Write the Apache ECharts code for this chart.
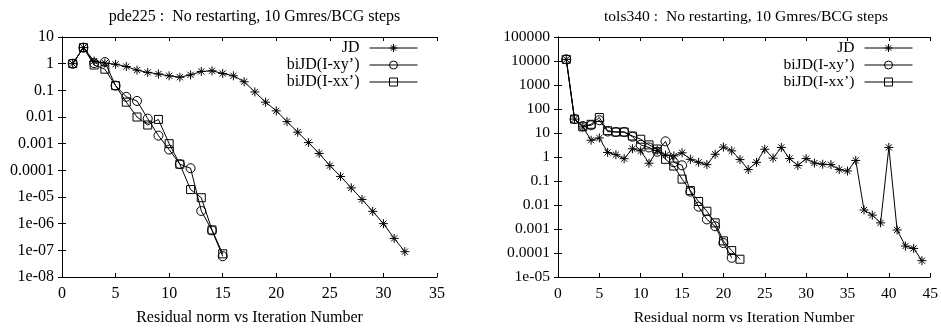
<!DOCTYPE html>
<html>
<head>
<meta charset="utf-8">
<script src="https://cdn.jsdelivr.net/npm/echarts@6/dist/echarts.min.js"></script>
<style>
html,body{margin:0;padding:0;background:#fff;}
#c{width:941px;height:331px;}
</style>
</head>
<body>
<div id="c"></div>
<script>
// ---- data (iteration number = index + 1) ----
const titleLeft = "pde225 :  No restarting, 10 Gmres/BCG steps";
const titleRight = "tols340 :  No restarting, 10 Gmres/BCG steps";
const xName = "Residual norm vs Iteration Number";
const seriesNames = ["JD", "biJD(I-xy\u2019)", "biJD(I-xx\u2019)"];

const jdLeft = [1.0, 4.0, 1.25, 1.05, 0.95, 0.78, 0.57, 0.47, 0.41, 0.35, 0.31, 0.38, 0.51, 0.54, 0.43, 0.35,
  0.21, 0.087, 0.036, 0.017, 0.0067, 0.0027, 0.0011, 4.3e-4, 1.5e-4, 5.9e-5, 2.2e-5, 8.1e-6, 2.9e-6, 1.0e-6, 2.8e-7, 8.9e-8];
const xyLeft = [1.0, 4.0, 1.05, 1.15, 0.15, 0.057, 0.04, 0.0087, 0.002, 6e-4, 1.7e-4, 1.2e-4, 3e-6, 5.6e-7, 6e-8];
const xxLeft = [1.0, 4.0, 0.89, 0.62, 0.15, 0.036, 0.01, 0.005, 0.0081, 0.001, 1.7e-4, 1.9e-5, 9.4e-6, 5.8e-7, 7.4e-8];

const jdRight = [11700, 38, 18, 5.0, 6.2, 1.55, 1.25, 0.85, 2.2, 1.8, 0.55, 1.9, 1.2, 1.1, 1.5, 0.8, 0.6, 0.48,
  1.3, 2.6, 1.8, 0.78, 0.3, 0.6, 2.1, 0.9, 2.5, 0.86, 0.44, 0.86, 0.56, 0.5, 0.48, 0.3, 0.26, 0.72,
  0.0062, 0.0038, 0.0018, 2.5, 9.1e-4, 1.95e-4, 1.55e-4, 4.8e-5];
const xyRight = [11700, 38, 19.5, 21, 34, 11.5, 11, 11, 7, 3.2, 2.5, 1.65, 4.5, 0.6, 0.45, 0.036, 0.0085, 0.0025, 0.0013, 2.6e-4, 6.3e-5];
const xxRight = [11700, 38, 18, 23, 44, 12.5, 11, 11, 7.5, 5.5, 3.2, 2.15, 0.8, 0.42, 0.12, 0.04, 0.014, 0.0055, 0.0018, 3.2e-4, 1.26e-4, 5.5e-5];

const yTicksLeft = ['1e-08', '1e-07', '1e-06', '1e-05', '0.0001', '0.001', '0.01', '0.1', '1', '10'];
const yTicksRight = ['1e-05', '0.0001', '0.001', '0.01', '0.1', '1', '10', '100', '1000', '10000', '100000'];

// ---- chart ----
const FONT = 'Liberation Serif';
const asterisk = 'path://M5,0L5,10M0,5L10,5M1.6,1.6L8.4,8.4M1.6,8.4L8.4,1.6';
const symbols = [asterisk, 'circle', 'rect'];
const symbolSizes = [9, 9, 8];

function pts(arr) { return arr.map((v, i) => [i + 1, v]); }

function mkSeries(name, idx, arr, gi) {
  return {
    name: name, type: 'line', xAxisIndex: gi * 2, yAxisIndex: gi * 2,
    data: pts(arr), symbol: symbols[idx], symbolSize: symbolSizes[idx],
    showAllSymbol: true,
    lineStyle: { color: '#000', width: 1 },
    itemStyle: { color: idx === 0 ? '#000' : 'rgba(0,0,0,0)', borderColor: '#000', borderWidth: 1 },
    emphasis: { disabled: true }, z: 3 + idx
  };
}

function xAxes(gi, max, fs) {
  const common = {
    type: 'value', gridIndex: gi, min: 0, max: max, interval: 5,
    axisLine: { show: true, lineStyle: { color: '#000', width: 1 } },
    axisTick: { show: true, inside: true, length: 4, lineStyle: { color: '#000' } },
    splitLine: { show: false }
  };
  return [
    Object.assign({}, common, {
      position: 'bottom',
      axisLabel: { color: '#000', fontFamily: FONT, fontSize: fs, margin: 9 },
      name: xName, nameLocation: 'middle', nameGap: 33,
      nameTextStyle: { color: '#000', fontFamily: FONT, fontSize: fs }
    }),
    Object.assign({}, common, { position: 'top', axisLabel: { show: false } })
  ];
}

function yAxes(gi, min, max, labels, off, fs) {
  const common = {
    type: 'log', logBase: 10, gridIndex: gi, min: min, max: max, interval: 1,
    axisLine: { show: true, lineStyle: { color: '#000', width: 1 } },
    axisTick: { show: true, inside: true, length: 4, lineStyle: { color: '#000' } },
    splitLine: { show: false }
  };
  return [
    Object.assign({}, common, {
      position: 'left',
      axisLabel: {
        color: '#000', fontFamily: FONT, fontSize: fs, margin: 8,
        formatter: v => labels[Math.round(Math.log10(v)) + off]
      }
    }),
    Object.assign({}, common, { position: 'right', axisLabel: { show: false } })
  ];
}

function legend(gi, right, fs) {
  return {
    orient: 'vertical', align: 'right', right: right, top: 40, padding: 0,
    itemWidth: 48, itemHeight: 10, itemGap: 1,
    data: seriesNames,
    itemStyle: { color: 'rgba(0,0,0,0)', borderColor: '#000', borderWidth: 1 },
    lineStyle: { color: '#000', width: 1 },
    textStyle: { color: '#000', fontFamily: FONT, fontSize: fs, padding: [0, 5, 0, 0], lineHeight: 15 },
    selectedMode: false
  };
}

const option = {
  animation: false,
  backgroundColor: '#fff',
  color: ['#000'],
  title: [
    { text: titleLeft, left: 249.5, top: 4, textAlign: 'center',
      textStyle: { color: '#000', fontFamily: FONT, fontSize: 16, fontWeight: 'normal' } },
    { text: titleRight, left: 741, top: 4, textAlign: 'center',
      textStyle: { color: '#000', fontFamily: FONT, fontSize: 15.6, fontWeight: 'normal' } }
  ],
  grid: [
    { left: 62, right: 504, top: 37, bottom: 54 },
    { left: 558, right: 8, top: 37, bottom: 54 }
  ],
  legend: [legend(0, 523, 16), legend(1, 28, 15.6)],
  xAxis: [].concat(xAxes(0, 35, 16), xAxes(1, 45, 15.6)),
  yAxis: [].concat(yAxes(0, 1e-8, 10, yTicksLeft, 8, 16), yAxes(1, 1e-5, 1e5, yTicksRight, 5, 15.6)),
  series: [
    mkSeries(seriesNames[0], 0, jdLeft, 0),
    mkSeries(seriesNames[1], 1, xyLeft, 0),
    mkSeries(seriesNames[2], 2, xxLeft, 0),
    mkSeries(seriesNames[0], 0, jdRight, 1),
    mkSeries(seriesNames[1], 1, xyRight, 1),
    mkSeries(seriesNames[2], 2, xxRight, 1)
  ]
};

const chart = echarts.init(document.getElementById('c'), null, { renderer: 'canvas' });
chart.setOption(option);
</script>
</body>
</html>
